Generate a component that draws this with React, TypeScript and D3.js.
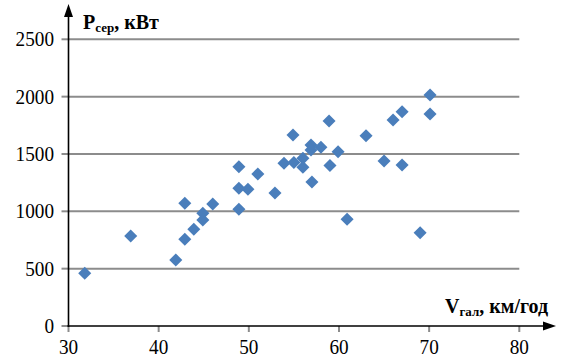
import React from "react";
import * as d3 from "d3";

const speeds: number[] = [31.8, 36.9, 41.9, 42.9, 42.9, 43.9, 44.9, 44.9, 46, 48.9, 48.9, 49.9, 48.9, 51, 52.9, 53.9, 55, 54.9, 56, 56, 56.9, 56.9, 57, 58, 58.9, 59, 59.9, 60.9, 63, 65, 66, 67, 67, 69, 70.1, 70.1];
const powers: number[] = [460, 785, 576, 1070, 756, 843, 983, 924, 1064, 1389, 1201, 1192, 1018, 1325, 1160, 1419, 1426, 1666, 1462, 1384, 1578, 1535, 1256, 1558, 1788, 1400, 1520, 930, 1659, 1439, 1796, 1869, 1404, 814, 2014, 1849];
const xTicks: number[] = [30, 40, 50, 60, 70, 80];
const yTicks: number[] = [0, 500, 1000, 1500, 2000, 2500];

const font = "Liberation Serif, Times New Roman, DejaVu Serif, serif";
const ts: React.CSSProperties = { fontFamily: font };

export default function App() {
  const W = 563, H = 360;
  const x = d3.scaleLinear().domain([30, 80]).range([68.5, 519.3]);
  const y = d3.scaleLinear().domain([0, 2500]).range([326, 39.3]);
  const diamond = d3.symbol().type(d3.symbolSquare).size(85)() as string;
  const x0 = x(30), y0 = y(0);
  return (
    <svg width={W} height={H} style={{ position: "absolute", left: 0, top: 0, background: "#fff" }}>
      {yTicks.filter(t => t > 0).map(t => (
        <line key={"g" + t} x1={x0} x2={x(80)} y1={y(t)} y2={y(t)} stroke="#8c8c8c" strokeWidth={2} />
      ))}
      {yTicks.map(t => (
        <g key={"yt" + t}>
          <line x1={x0 - 7} x2={x0} y1={y(t)} y2={y(t)} stroke="#8c8c8c" strokeWidth={2} />
          <text x={54} y={y(t) + 7} textAnchor="end" fontSize={21} fill="#000" style={ts}
            textLength={String(t).length * 9.6} lengthAdjust="spacingAndGlyphs">{t}</text>
        </g>
      ))}
      {xTicks.map(t => (
        <g key={"xt" + t}>
          <line x1={x(t)} x2={x(t)} y1={y0} y2={y0 + 6} stroke="#8c8c8c" strokeWidth={2} />
          <text x={x(t)} y={354} textAnchor="middle" fontSize={21} fill="#000" style={ts}
            textLength={19.2} lengthAdjust="spacingAndGlyphs">{t}</text>
        </g>
      ))}
      <line x1={x0} x2={x0} y1={y0 + 1} y2={14} stroke="#000" strokeWidth={1.6} />
      <path d={`M${x0},4 L${x0 - 4.5},17 L${x0 + 4.5},17 Z`} fill="#000" />
      <line x1={x0 - 1} x2={545} y1={y0} y2={y0} stroke="#000" strokeWidth={1.6} />
      <path d={`M556,${y0} L543,${y0 - 4.5} L543,${y0 + 4.5} Z`} fill="#000" />
      {speeds.map((s, i) => (
        <path key={"p" + i} d={diamond} transform={`translate(${x(s)},${y(powers[i])}) rotate(45)`} fill="#4a7ebb" />
      ))}
      <text x={83} y={29} fontSize={20} fontWeight="bold" fill="#000" style={ts}>
        P<tspan fontSize={13} dy={3}>сер</tspan><tspan dy={-3}>, кВт</tspan>
      </text>
      <text x={445} y={313} fontSize={20} fontWeight="bold" fill="#000" style={ts}>
        V<tspan fontSize={13} dy={3}>гал</tspan><tspan dy={-3}>, км/год</tspan>
      </text>
    </svg>
  );
}
